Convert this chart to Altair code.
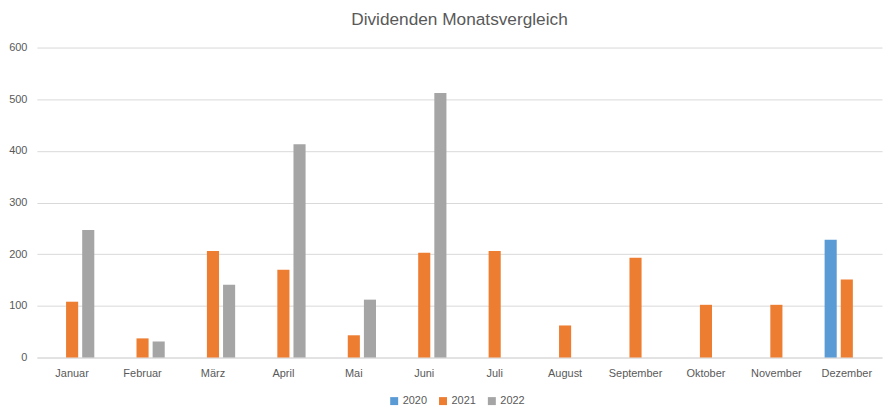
import altair as alt
import pandas as pd

months = ["Januar", "Februar", "März", "April", "Mai", "Juni", "Juli",
          "August", "September", "Oktober", "November", "Dezember"]
years = ["2020", "2021", "2022"]
values_2020 = [None, None, None, None, None, None, None, None, None, None, None, 228]
values_2021 = [108, 37, 206, 170, 43, 203, 206, 62, 193, 102, 102, 151]
values_2022 = [247, 31, 141, 413, 112, 512, None, None, None, None, None, None]
colors = ["#5B9BD5", "#ED7D31", "#A5A5A5"]

rows = []
for y, vals in zip(years, [values_2020, values_2021, values_2022]):
    for m, v in zip(months, vals):
        if v is not None:
            rows.append({"Monat": m, "Jahr": y, "Wert": v})
df = pd.DataFrame(rows)

FONT = "Liberation Sans"
TXT = "#595959"

chart = alt.Chart(df).mark_bar().encode(
    x=alt.X("Monat:N", sort=months, title=None,
            scale=alt.Scale(domain=months, paddingInner=0.37, paddingOuter=0.185),
            axis=alt.Axis(labelAngle=0, ticks=False, domain=True, domainColor="#d9d9d9",
                          labelColor=TXT, labelFont=FONT, labelFontSize=11, labelPadding=10)),
    xOffset=alt.XOffset("Jahr:N", scale=alt.Scale(domain=years, paddingInner=0.25, paddingOuter=0)),
    y=alt.Y("Wert:Q", title=None,
            scale=alt.Scale(domain=[0, 600], nice=False),
            axis=alt.Axis(values=[0, 100, 200, 300, 400, 500, 600], ticks=False, domain=False,
                          gridColor="#d9d9d9", labelColor=TXT, labelFont=FONT,
                          labelFontSize=11, labelPadding=10)),
    color=alt.Color("Jahr:N", scale=alt.Scale(domain=years, range=colors),
                    legend=alt.Legend(orient="none", legendX=353, legendY=349,
                                      direction="horizontal", title=None,
                                      symbolType="square", symbolSize=64, symbolStrokeWidth=0,
                                      labelColor=TXT, labelFont=FONT, labelFontSize=11,
                                      labelOffset=3, columnPadding=10)),
).properties(
    width=848, height=311,
    title=alt.TitleParams("Dividenden Monatsvergleich", font=FONT, fontSize=17.3,
                          fontWeight="normal", color=TXT, anchor="middle", offset=13),
    padding={"left": 0, "top": 2, "right": 5, "bottom": 5},
).configure_view(stroke=None)

chart.save("out.html", embed_options={"renderer": "svg", "actions": False})
